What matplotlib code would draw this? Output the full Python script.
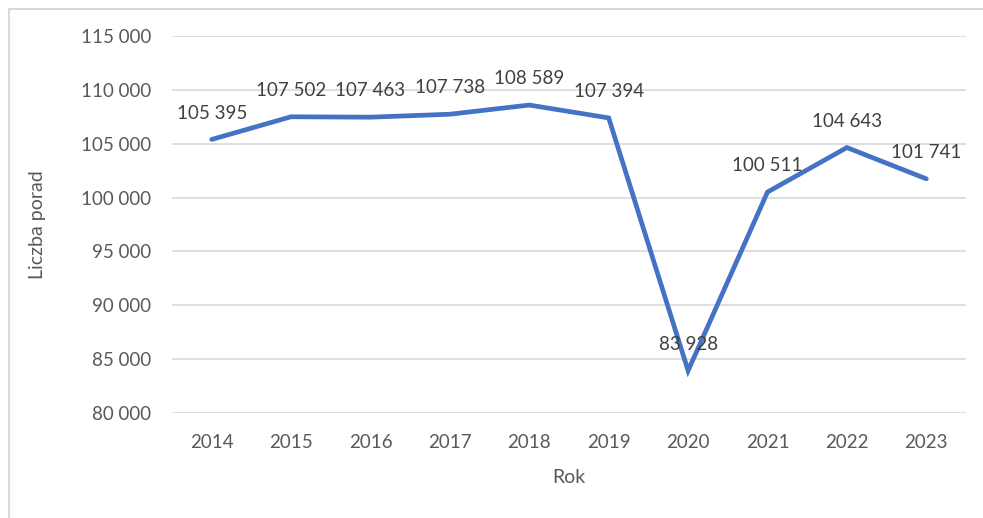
import matplotlib.pyplot as plt
from matplotlib.patches import Rectangle
from matplotlib.ticker import FuncFormatter

# data
years = ['2014', '2015', '2016', '2017', '2018', '2019', '2020', '2021', '2022', '2023']
porady = [105395, 107502, 107463, 107738, 108589, 107394, 83928, 100511, 104643, 101741]

plt.rcParams['font.family'] = ['Lato', 'DejaVu Sans']

W, H = 983, 518
fig = plt.figure(figsize=(W / 100, H / 100), dpi=100)

# plot area in pixels: x 172..966, y 36..413
ax = fig.add_axes([172 / W, 1 - 413 / H, (966 - 172) / W, (413 - 36) / H])

# chart frame (left and top edges visible, rest cut off)
fig.patches.append(Rectangle((9 / W, -0.1), 1.2, 1 - 9 / H + 0.1, transform=fig.transFigure,
                             fill=False, edgecolor='#d9d9d9', linewidth=1.5))

x = range(len(years))
ax.plot(x, porady, color='#4472C4', linewidth=3.4, solid_capstyle='round', solid_joinstyle='miter', zorder=3)

def fmt(v):
    return f'{int(v):,}'.replace(',', ' ')

for i, v in zip(x, porady):
    ax.annotate(fmt(v), (i, v), xytext=(0, 19), textcoords='offset points',
                ha='center', va='center', fontsize=13.5, color='#404040', zorder=4)

ax.set_xlim(-0.5, len(years) - 0.5)
ax.set_ylim(80000, 115000)
ax.set_yticks(range(80000, 115001, 5000))
ax.yaxis.set_major_formatter(FuncFormatter(lambda v, p: fmt(v)))
ax.set_xticks(list(x))
ax.set_xticklabels(years)

ax.grid(axis='y', color='#d9d9d9', linewidth=1.2)
ax.set_axisbelow(True)
for s in ax.spines.values():
    s.set_visible(False)
ax.tick_params(length=0, labelsize=13.5, labelcolor='#595959')
ax.tick_params(axis='y', pad=15)
ax.tick_params(axis='x', pad=15)

ax.set_xlabel('Rok', fontsize=14, color='#595959', labelpad=13)
ax.set_ylabel('Liczba porad', fontsize=14, color='#595959', labelpad=25)

fig.savefig('out.png', dpi=100)
